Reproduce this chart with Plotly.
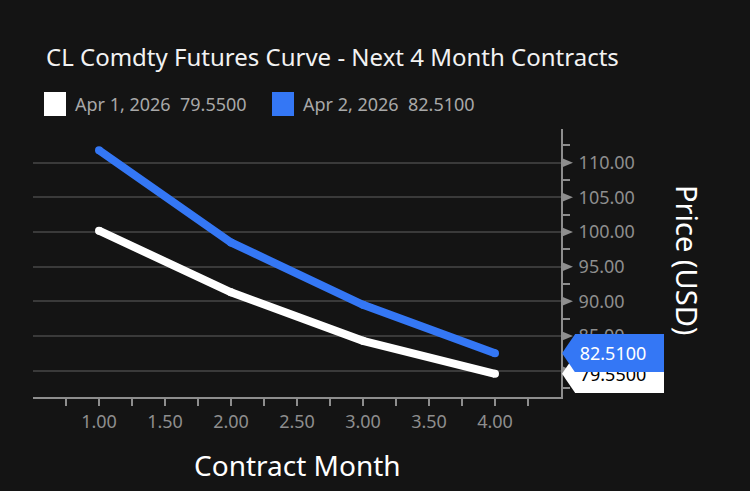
import plotly.graph_objects as go

# ---- data ----
contract_month = [1, 2, 3, 4]
series_names = ["Apr 1, 2026", "Apr 2, 2026"]
prices_apr1 = [100.2, 91.3, 84.3, 79.55]
prices_apr2 = [111.8, 98.5, 89.5, 82.51]
x_tick_vals = [0.75, 1.0, 1.25, 1.5, 1.75, 2.0, 2.25, 2.5, 2.75, 3.0, 3.25, 3.5, 3.75, 4.0, 4.25]
y_tick_vals = [80, 85, 90, 95, 100, 105, 110]

# ---- style ----
BG = "#141414"
WHITE = "#ffffff"
BLUE = "#3477f5"
GRAY = "#8e8e8e"
GRID = "#3a3a3a"
FONT = "Noto Sans"

W, H = 750, 491
L, R, T, B = 33, 189, 129, 94
PW = W - L - R
PH = H - T - B


def px(x):
    return (x - L) / PW


def py(y):
    return (H - B - y) / PH


x_tick_text = [f"{v:.2f}" if abs(v * 2 - round(v * 2)) < 1e-9 else "" for v in x_tick_vals]

fig = go.Figure()
for name, vals, col in [(series_names[0], prices_apr1, WHITE), (series_names[1], prices_apr2, BLUE)]:
    fig.add_trace(go.Scatter(
        x=contract_month, y=vals, mode="lines+markers", name=name,
        line=dict(color=col, width=8), marker=dict(color=col, size=8),
        showlegend=False, hoverinfo="skip",
    ))

shapes = []
annotations = []

# triangle ticks on the y axis
yr0, yr1 = 76.2, 114.86
unit_px = PH / (yr1 - yr0)
for v in y_tick_vals:
    h = 5 / unit_px
    shapes.append(dict(
        type="path", xref="paper", yref="y",
        path=f"M 1,{v - h} L {1 + 12 / PW},{v} L 1,{v + h} Z",
        fillcolor=GRAY, line=dict(width=0), layer="above",
    ))

# price tags at right
tags = [(prices_apr1[-1], WHITE, "#000000"), (prices_apr2[-1], BLUE, "#ffffff")]
half = 19 / unit_px
for val, col, tcol in tags:
    shapes.append(dict(
        type="path", xref="paper", yref="y",
        path=f"M {px(575)},{val + half} L {px(562)},{val} L {px(575)},{val - half} Z",
        fillcolor=col, line=dict(width=0), layer="above",
    ))
    annotations.append(dict(
        xref="paper", yref="y", x=px(575), y=val, xanchor="left", yanchor="middle",
        text=f"&nbsp;{val:.4f}", showarrow=False, bgcolor=col, borderpad=0, borderwidth=0,
        width=89, height=38, align="left",
        font=dict(family=FONT, size=18, color=tcol),
    ))

# legend
legend_items = [
    (44, f"{series_names[0]}  {prices_apr1[-1]:.4f}", WHITE),
    (272, f"{series_names[1]}  {prices_apr2[-1]:.4f}", BLUE),
]
for x0, label, col in legend_items:
    shapes.append(dict(
        type="rect", xref="paper", yref="paper",
        x0=px(x0), x1=px(x0 + 22), y0=py(116), y1=py(92),
        fillcolor=col, line=dict(width=0),
    ))
    annotations.append(dict(
        xref="paper", yref="paper", x=px(x0 + 29), y=py(104), xanchor="left", yanchor="middle",
        text=label, showarrow=False, font=dict(family=FONT, size=18, color="#a8a8a8"),
    ))

# axis titles
annotations.append(dict(
    xref="paper", yref="paper", x=0.5, y=py(465), xanchor="center", yanchor="middle",
    text="Contract Month", showarrow=False, font=dict(family=FONT, size=28, color=WHITE),
))
annotations.append(dict(
    xref="paper", yref="paper", x=px(688), y=py(260), xanchor="center", yanchor="middle",
    text="Price (USD)", textangle=90, showarrow=False, font=dict(family=FONT, size=29, color=WHITE),
))

fig.update_layout(
    width=W, height=H,
    margin=dict(l=L, r=R, t=T, b=B, autoexpand=False),
    paper_bgcolor=BG, plot_bgcolor=BG,
    title=dict(
        text="CL Comdty Futures Curve - Next 4 Month Contracts",
        x=46 / W, xanchor="left", xref="container",
        y=1 - 58 / H, yanchor="middle", yref="container",
        font=dict(family=FONT, size=24, color="#f2f2f2"),
    ),
    xaxis=dict(
        range=[0.5, 4.5], showgrid=False, zeroline=False,
        showline=True, linecolor=GRAY, linewidth=2,
        tickmode="array", tickvals=x_tick_vals, ticktext=x_tick_text,
        ticks="outside", ticklen=7, tickwidth=2, tickcolor=GRAY,
        tickfont=dict(family=FONT, size=18, color=GRAY),
    ),
    yaxis=dict(
        range=[yr0, yr1], side="right", zeroline=False,
        showgrid=True, gridcolor=GRID, gridwidth=1.5,
        showline=True, linecolor=GRAY, linewidth=2,
        tickmode="array", tickvals=y_tick_vals, ticktext=[f"{v:.2f}" for v in y_tick_vals],
        ticks="outside", ticklen=7, tickwidth=2, tickcolor=GRAY,
        ticklabelstandoff=5,
        minor=dict(dtick=2.5, tick0=0, ticks="outside", ticklen=7, tickwidth=2, tickcolor=GRAY, showgrid=False),
        tickfont=dict(family=FONT, size=18, color=GRAY),
    ),
    shapes=shapes,
    annotations=annotations,
)

fig.write_html(
    "out.html",
    config={"displayModeBar": False},
    post_script="document.body.style.margin='0';document.body.style.background='#141414';",
)
